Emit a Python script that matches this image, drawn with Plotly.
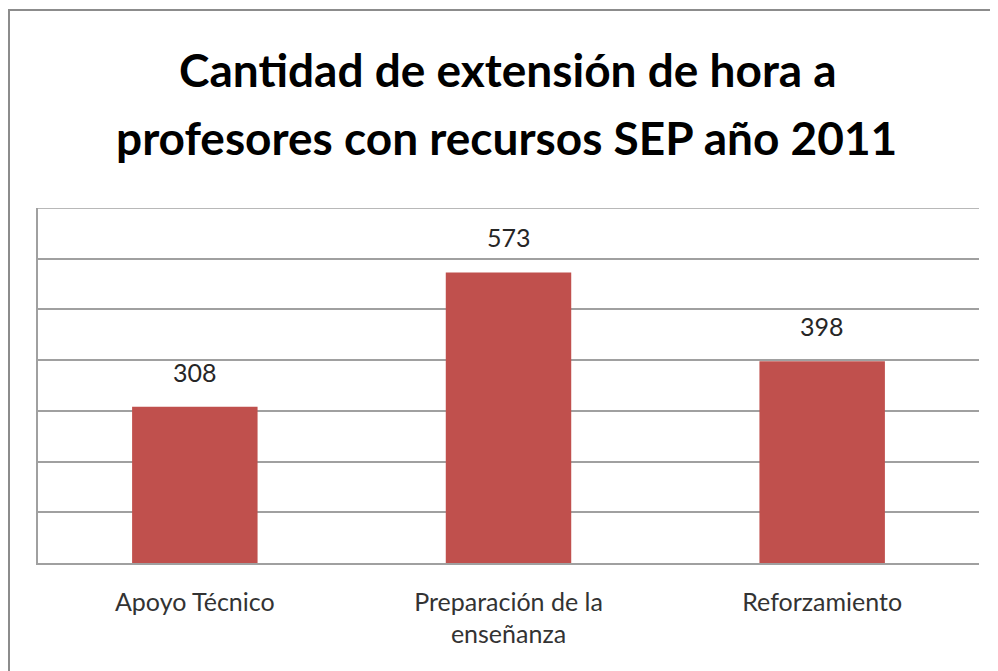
import plotly.graph_objects as go

categories = ["Apoyo Técnico", "Preparación de la<br>enseñanza", "Reforzamiento"]
values = [308, 573, 398]
title_lines = ["Cantidad de extensión de hora a", "profesores con recursos SEP año 2011"]

# page body adds an 8px offset; work in figure coordinates
OFF = 8
W, H = 998 - OFF, 671 - OFF
L, T = 38 - OFF, 208 - OFF
PR, PB = 979 - OFF, 563 - OFF
R, B = W - PR, H - PB
pw, ph = PR - L, PB - T

def py(pix):  # reference pixel y -> paper y
    return ((563 - pix)) / ph

def px(pix):  # reference pixel x -> paper x
    return (pix - 38) / pw

FONT = "Lato, Carlito, sans-serif"

fig = go.Figure()
fig.add_trace(go.Bar(x=categories, y=values, marker=dict(color="#C0504D", line=dict(width=0)),
                     hoverinfo="x+y"))

for c, v in zip(categories, values):
    fig.add_annotation(x=c, y=v, text=str(v), showarrow=False, yanchor="bottom", yshift=18,
                       font=dict(family=FONT, size=25, color="#262626"))

for line, cy, cx in zip(title_lines, [69, 137], [508, 506]):
    fig.add_annotation(x=px(cx), y=py(cy), xref="paper", yref="paper", text="<b>" + line + "</b>",
                       showarrow=False, yanchor="middle", xanchor="center",
                       font=dict(family=FONT, size=46, color="#000000"))

# outer chart border (extends past image on right and bottom)
fig.add_shape(type="rect", xref="paper", yref="paper",
              x0=px(9), x1=px(1015), y0=py(700), y1=py(10),
              line=dict(color="#8C8C8C", width=2), fillcolor="rgba(0,0,0,0)", layer="below")
# top gridline at range max
fig.add_shape(type="line", xref="paper", yref="y", x0=0, x1=1, y0=700, y1=700,
              line=dict(color="#A0A0A0", width=1.5), layer="below")

fig.update_layout(
    width=W, height=H, margin=dict(l=L, r=R, t=T, b=B, pad=0),
    paper_bgcolor="white", plot_bgcolor="white", showlegend=False, bargap=0.6,
    font=dict(family=FONT),
)
fig.update_xaxes(showline=True, linecolor="#A0A0A0", linewidth=1.5, ticks="",
                 tickfont=dict(size=25, color="#333333"), ticklabelstandoff=16, fixedrange=True)
fig.update_yaxes(range=[0, 700], dtick=100, showgrid=True, gridcolor="#A0A0A0", gridwidth=1.5,
                 showline=True, linecolor="#A0A0A0", linewidth=1.5, showticklabels=False,
                 zeroline=False, ticks="", fixedrange=True)
fig.write_html("out.html")
